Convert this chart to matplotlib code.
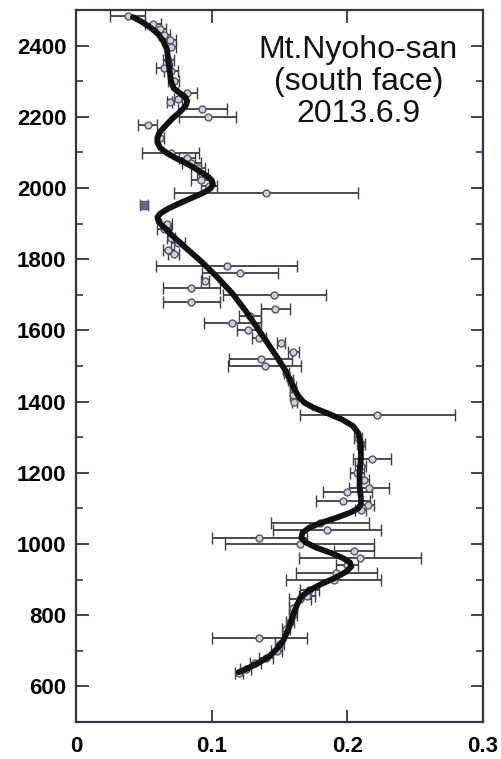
import matplotlib
matplotlib.use("Agg")
import matplotlib.pyplot as plt
import numpy as np

# observed points: altitude (m), value, horizontal error
alt = [2484, 2462, 2447, 2430, 2415, 2395, 2360, 2338, 2330, 2300,
       2266, 2250, 2242, 2222, 2200, 2176, 2140, 2097, 2085, 2070,
       2055, 2040, 2022, 2005, 1985, 1900, 1885, 1860, 1845, 1825,
       1815, 1780, 1761, 1740, 1718, 1699, 1679, 1660, 1640, 1620,
       1601, 1580, 1564, 1539, 1520, 1500, 1480, 1461, 1440, 1420,
       1400, 1362, 1298, 1280, 1240, 1220, 1200, 1180, 1158, 1145,
       1122, 1110, 1095, 1060, 1040, 1018, 1001, 980, 962, 942,
       920, 900, 872, 855, 845, 820, 800, 780, 760, 737,
       720, 700, 680, 665, 650, 639]
val = [0.038, 0.057, 0.062, 0.065, 0.069, 0.070, 0.068, 0.065, 0.070, 0.072,
       0.082, 0.075, 0.069, 0.093, 0.097, 0.053, 0.062, 0.070, 0.082, 0.085,
       0.090, 0.093, 0.092, 0.098, 0.140, 0.067, 0.065, 0.070, 0.075, 0.068,
       0.072, 0.111, 0.121, 0.095, 0.085, 0.146, 0.085, 0.147, 0.128, 0.115,
       0.127, 0.135, 0.151, 0.160, 0.136, 0.139, 0.155, 0.158, 0.160, 0.160,
       0.161, 0.222, 0.208, 0.210, 0.218, 0.210, 0.207, 0.212, 0.216, 0.200,
       0.197, 0.215, 0.210, 0.180, 0.185, 0.135, 0.165, 0.205, 0.209, 0.200,
       0.192, 0.190, 0.172, 0.170, 0.165, 0.160, 0.160, 0.158, 0.155, 0.135,
       0.150, 0.148, 0.140, 0.132, 0.125, 0.120]
err = [0.013, 0.006, 0.004, 0.004, 0.005, 0.004, 0.004, 0.006, 0.005, 0.004,
       0.007, 0.003, 0.002, 0.018, 0.021, 0.007, 0.003, 0.021, 0.006, 0.007,
       0.005, 0.004, 0.007, 0.006, 0.068, 0.004, 0.005, 0.003, 0.005, 0.004,
       0.004, 0.052, 0.028, 0.003, 0.021, 0.038, 0.021, 0.011, 0.008, 0.021,
       0.008, 0.005, 0.003, 0.004, 0.023, 0.027, 0.002, 0.002, 0.002, 0.002,
       0.002, 0.057, 0.003, 0.003, 0.014, 0.004, 0.005, 0.004, 0.015, 0.018,
       0.020, 0.005, 0.004, 0.036, 0.040, 0.035, 0.055, 0.015, 0.045, 0.008,
       0.030, 0.035, 0.007, 0.006, 0.008, 0.003, 0.003, 0.003, 0.003, 0.035,
       0.003, 0.004, 0.005, 0.004, 0.004, 0.003]

# odd point
odd_alt = [1951]
odd_val = [0.050]

# smoothed profile
curve_x = [0.042, 0.048, 0.054, 0.060, 0.064, 0.067, 0.068, 0.069, 0.070, 0.072,
           0.076, 0.080, 0.082, 0.081, 0.077, 0.071, 0.066, 0.062, 0.060, 0.060,
           0.062, 0.067, 0.074, 0.082, 0.090, 0.096, 0.100, 0.101, 0.099, 0.093,
           0.084, 0.075, 0.067, 0.062, 0.060, 0.061, 0.064, 0.070, 0.080, 0.092,
           0.104, 0.115, 0.125, 0.134, 0.142, 0.149, 0.154, 0.158, 0.161, 0.164,
           0.168, 0.175, 0.185, 0.196, 0.204, 0.208, 0.210, 0.210, 0.209, 0.209,
           0.210, 0.210, 0.208, 0.202, 0.192, 0.181, 0.172, 0.167, 0.166, 0.169,
           0.177, 0.188, 0.197, 0.202, 0.203, 0.199, 0.191, 0.181, 0.172, 0.166,
           0.163, 0.160, 0.157, 0.153, 0.148, 0.142, 0.134, 0.126, 0.120]
curve_y = [2480, 2468, 2453, 2435, 2415, 2390, 2360, 2330, 2300, 2280,
           2268, 2258, 2245, 2232, 2215, 2195, 2175, 2158, 2142, 2128,
           2113, 2098, 2083, 2068, 2050, 2035, 2022, 2010, 1998, 1985,
           1970, 1955, 1940, 1928, 1918, 1905, 1893, 1870, 1835, 1795,
           1750, 1705, 1655, 1605, 1560, 1520, 1490, 1460, 1435, 1415,
           1398, 1383, 1368, 1350, 1332, 1312, 1280, 1240, 1200, 1160,
           1130, 1112, 1100, 1088, 1074, 1060, 1046, 1032, 1018, 1005,
           990, 975, 960, 948, 937, 922, 905, 888, 870, 852,
           830, 800, 765, 730, 705, 683, 665, 650, 640]

label_lines = ["Mt.Nyoho-san", "(south face)", "2013.6.9"]

plt.rcParams['font.family'] = ['Liberation Sans', 'DejaVu Sans']

fig = plt.figure(figsize=(5.02, 7.59), dpi=100)
ax = fig.add_axes([0.1514, 0.0487, 0.8108, 0.9381])

ax.errorbar(val, alt, xerr=err, fmt='o', ms=5, mfc='#c9d2de', mec='#555566',
            mew=1.0, ecolor='#3c3c4c', elinewidth=1.3, capsize=4, capthick=1.3,
            zorder=2)
ax.errorbar(odd_val, odd_alt, xerr=[0.003], fmt='s', ms=6, mfc='#6a6a88',
            mec='#55557a', ecolor='#55557a', elinewidth=1.5, capsize=4,
            zorder=2)
ax.plot(curve_x, curve_y, color='#111111', lw=4.2, solid_joinstyle='round',
        solid_capstyle='round', zorder=3)

ax.text(0.208, 2298, "\n".join(label_lines), ha='center', va='center',
        fontsize=23, linespacing=1.08, color='#111111')

ax.set_xlim(0, 0.3)
ax.set_ylim(500, 2500)
ax.set_xticks([0, 0.1, 0.2, 0.3])
ax.set_xticklabels(['0', '0.1', '0.2', '0.3'])
ax.set_yticks(np.arange(600, 2401, 200))
ax.set_yticks(np.arange(500, 2500, 100), minor=True)
ax.tick_params(axis='both', which='major', direction='in', length=9, width=1.3,
               labelsize=16, top=True, right=True, color='#333344', pad=7)
ax.tick_params(axis='x', which='major', pad=10)
ax.tick_params(axis='y', which='minor', direction='in', length=5, width=1.2,
               right=True, color='#333344')
for lab in ax.get_xticklabels() + ax.get_yticklabels():
    lab.set_fontweight('bold')
for s in ax.spines.values():
    s.set_linewidth(1.6)
    s.set_color('#333344')

fig.savefig('out.png', dpi=100)
